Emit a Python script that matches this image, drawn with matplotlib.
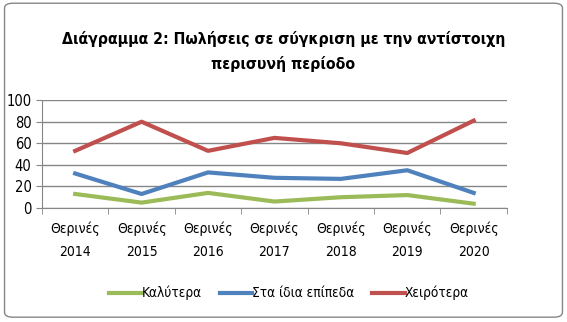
import matplotlib.pyplot as plt
from matplotlib.patches import FancyBboxPatch

categories = ["Θερινές\n2014", "Θερινές\n2015", "Θερινές\n2016", "Θερινές\n2017",
              "Θερινές\n2018", "Θερινές\n2019", "Θερινές\n2020"]
better = [13, 5, 14, 6, 10, 12, 4]
same = [32, 13, 33, 28, 27, 35, 14]
worse = [53, 80, 53, 65, 60, 51, 81]

plt.rcParams['font.family'] = ['DejaVu Sans']
plt.rcParams['font.stretch'] = 'condensed'

fig = plt.figure(figsize=(5.67, 3.22), dpi=100)
fig.patches.append(FancyBboxPatch((0.008, 0.015), 0.984, 0.975,
                                  boxstyle="round,pad=0,rounding_size=0.015",
                                  transform=fig.transFigure, fill=False,
                                  edgecolor='#868686', linewidth=1.0))

ax = fig.add_axes([0.074, 0.354, 0.82, 0.335])
x = list(range(len(categories)))
ax.plot(x, better, color='#9bbb59', linewidth=3, label='Καλύτερα')
ax.plot(x, same, color='#4f81bd', linewidth=3, label='Στα ίδια επίπεδα')
ax.plot(x, worse, color='#c0504d', linewidth=3, label='Χειρότερα')

ax.set_xlim(-0.5, len(categories) - 0.5)
ax.set_ylim(0, 100)
ax.set_yticks(range(0, 101, 20))
ax.grid(axis='y', color='#868686', linewidth=1)
ax.set_axisbelow(True)
ax.set_xticks(x)
ax.set_xticklabels(categories, fontsize=10, linespacing=1.8)
ax.set_xticks([i - 0.5 for i in range(len(categories) + 1)], minor=True)
ax.tick_params(axis='x', which='major', length=0, pad=10)
ax.tick_params(axis='x', which='minor', length=4, color='#868686')
ax.tick_params(axis='y', length=4, color='#868686', labelsize=10.5)
for s in ['top', 'right']:
    ax.spines[s].set_visible(False)
for s in ['left', 'bottom']:
    ax.spines[s].set_color('#868686')

fig.text(0.5, 0.84, "Διάγραμμα 2: Πωλήσεις σε σύγκριση με την αντίστοιχη\nπερισυνή περίοδο",
         ha='center', va='center', fontsize=11.3, fontweight='bold', linespacing=1.7)

fig.legend(loc='center', bbox_to_anchor=(0.51, 0.09), ncol=3, frameon=False,
           fontsize=9.8, handlelength=2.4, handletextpad=0.0, columnspacing=1.3)

plt.savefig('out.png', dpi=100)
